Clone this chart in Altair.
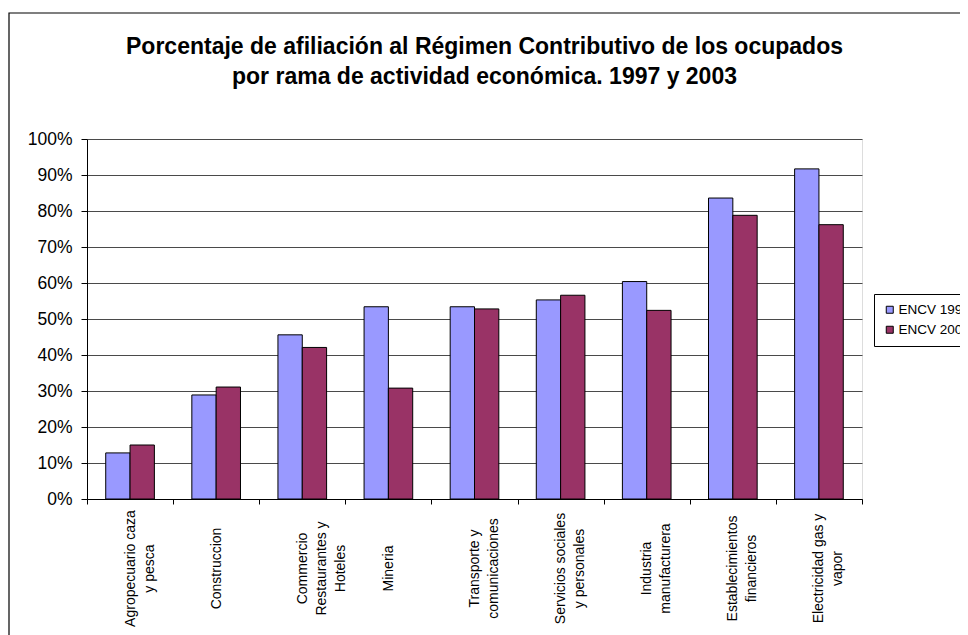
import altair as alt
import pandas as pd

categories = [
    "Agropecuario caza\ny pesca",
    "Construccion",
    "Commercio\nRestaurantes y\nHoteles",
    "Mineria",
    "Transporte y\ncomunicaciones",
    "Servicios sociales\ny personales",
    "Industria\nmanufacturera",
    "Establecimientos\nfinancieros",
    "Electricidad gas y\nvapor",
]
values_1997 = [0.128, 0.289, 0.456, 0.534, 0.534, 0.553, 0.604, 0.836, 0.917]
values_2003 = [0.150, 0.311, 0.421, 0.308, 0.528, 0.566, 0.524, 0.788, 0.762]
series = ["ENCV 1997", "ENCV 2003"]
colors = ["#9999FF", "#993366"]
y_ticks = [i / 10 for i in range(11)]

rows = []
for c, a, b in zip(categories, values_1997, values_2003):
    rows.append({"rama": c, "serie": series[0], "valor": a})
    rows.append({"rama": c, "serie": series[1], "valor": b})
df = pd.DataFrame(rows)

FONT = "Liberation Sans"

bars = alt.Chart(df).mark_bar(stroke="black", strokeWidth=1).encode(
    x=alt.X(
        "rama:N",
        sort=categories,
        title=None,
        scale=alt.Scale(paddingInner=0, paddingOuter=0),
        axis=alt.Axis(
            labelAngle=-90,
            labelAlign="center",
            labelBaseline="middle",
            labelExpr="split(datum.label, '\\n')",
            labelFontSize=14,
            labelLineHeight=19,
            labelPadding=64,
            labelColor="black",
            labelFont=FONT,
            tickBand="extent",
            tickSize=5,
            tickColor="black",
            domainColor="black",
            grid=False,
            labelLimit=300,
        ),
    ),
    xOffset=alt.XOffset(
        "serie:N", sort=series, scale=alt.Scale(paddingInner=0, paddingOuter=0.77)
    ),
    y=alt.Y(
        "valor:Q",
        title=None,
        scale=alt.Scale(domain=[0, 1], nice=False),
        axis=alt.Axis(
            values=y_ticks,
            format=".0%",
            labelFontSize=17.5,
            labelFont=FONT,
            labelColor="black",
            labelPadding=9,
            tickSize=6,
            tickColor="black",
            domainColor="black",
            gridColor="#4a4a4a",
            gridWidth=1,
        ),
    ),
    color=alt.Color(
        "serie:N",
        sort=series,
        scale=alt.Scale(domain=series, range=colors),
        legend=alt.Legend(
            title=None,
            orient="none",
            legendX=787,
            legendY=155,
            fillColor="white",
            strokeColor="black",
            padding=9,
            symbolType="square",
            symbolSize=49,
            symbolStrokeColor="black",
            symbolStrokeWidth=1,
            symbolOpacity=1,
            labelFontSize=13.5,
            labelFont=FONT,
            labelColor="black",
            labelOffset=2,
            rowPadding=5,
            labelLimit=200,
        ),
    ),
)

frame_df = pd.DataFrame({"k": [0]})
frame = alt.Chart(frame_df).mark_rect(fill=None, stroke="black", strokeWidth=1.2).encode(
    x=alt.value(-78),
    x2=alt.value(900),
    y=alt.value(-126),
    y2=alt.value(520),
)

chart = alt.layer(bars, frame).properties(
    width=775,
    height=360,
    autosize=alt.AutoSizeParams(type="none"),
    padding={"left": 79, "top": 131, "right": 98, "bottom": 136},
    title=alt.Title(
        [
            "Porcentaje de afiliación al Régimen Contributivo de los ocupados",
            "por rama de actividad económica. 1997 y 2003",
        ],
        font=FONT,
        fontSize=23,
        fontWeight="bold",
        color="black",
        anchor="middle",
        dx=10,
        lineHeight=30,
        offset=-77,
    ),
).configure_view(
    fill="#C0C0C0", stroke="#808080", strokeWidth=1
).configure(background="white", font=FONT)

chart.save("out.html", embed_options={"renderer": "svg", "actions": False})
